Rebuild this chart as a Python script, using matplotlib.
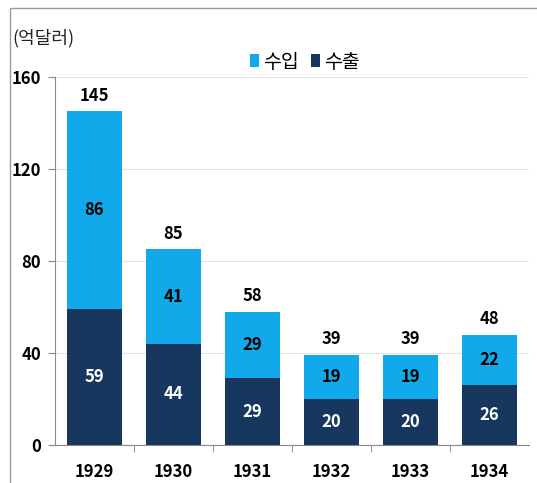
import matplotlib
matplotlib.use("Agg")
import matplotlib.pyplot as plt
import numpy as np
from matplotlib.patches import Rectangle

plt.rcParams['font.family'] = ['Noto Sans CJK KR', 'DejaVu Sans']

years = ['1929', '1930', '1931', '1932', '1933', '1934']
exports = [59, 44, 29, 20, 20, 26]   # 수출
imports = [86, 41, 29, 19, 19, 22]   # 수입
totals = [145, 85, 58, 39, 39, 48]

c_imp = '#12A9EA'
c_exp = '#17375E'

fig = plt.figure(figsize=(5.37, 4.83), dpi=100)
fig.patches.append(Rectangle((10 / 537, -0.1), 1.2, 1 - 8 / 483 + 0.1,
                             transform=fig.transFigure, fill=False,
                             edgecolor='#9a9a9a', linewidth=1.0))
ax = fig.add_axes([55 / 537, 1 - 445 / 483, 474 / 537, (445 - 77) / 483])

x = np.arange(len(years))
w = 0.69
ax.bar(x, exports, w, color=c_exp, label='수출', zorder=3)
ax.bar(x, imports, w, bottom=exports, color=c_imp, label='수입', zorder=3)

for i in range(len(years)):
    ax.text(x[i], exports[i] / 2, str(exports[i]), ha='center', va='center',
            color='white', fontsize=12, fontweight='bold', zorder=4)
    ax.text(x[i], exports[i] + imports[i] / 2, str(imports[i]), ha='center',
            va='center', color='black', fontsize=12, fontweight='bold', zorder=4)
    ax.text(x[i], totals[i] + 3, str(totals[i]), ha='center', va='bottom',
            color='black', fontsize=12, fontweight='bold', zorder=4)

ax.set_xlim(-0.5, len(years) - 0.5)
ax.set_ylim(0, 160)
ax.set_yticks([0, 40, 80, 120, 160])
ax.set_yticklabels(['0', '40', '80', '120', '160'], fontsize=12, fontweight='bold')
ax.set_xticks(x)
ax.set_xticklabels(years, fontsize=12, fontweight='bold')
ax.set_xticks(np.arange(0.5, len(years) - 0.5, 1), minor=True)
ax.tick_params(axis='x', which='major', length=0, pad=13)
ax.tick_params(axis='x', which='minor', length=5, direction='out', color='#888888')
ax.tick_params(axis='y', length=5, color='#888888', pad=5)
ax.grid(axis='y', color='#e3e3e3', linewidth=0.8, zorder=0)
for s in ['top', 'right']:
    ax.spines[s].set_visible(False)
for s in ['left', 'bottom']:
    ax.spines[s].set_color('#888888')

handles, labels = ax.get_legend_handles_labels()
fig.legend(handles[::-1], labels[::-1], loc='center', bbox_to_anchor=(305 / 537, 1 - 62 / 483),
           ncol=2, frameon=False, fontsize=14, handlelength=0.45, handleheight=0.6,
           handletextpad=0.25, columnspacing=0.6)
fig.text(12 / 537, 1 - 38 / 483, '(억달러)', fontsize=13, va='center', ha='left', color='#222222')

fig.savefig('out.png', dpi=100)
